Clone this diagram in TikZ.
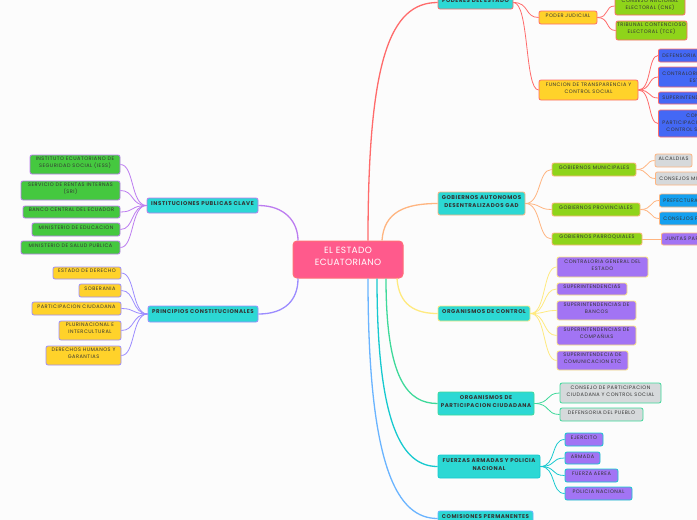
\documentclass[tikz,border=0pt]{standalone}
\usepackage{fontspec}
\setmainfont{Poppins}
\newfontfamily\tfont[LetterSpace=10]{Poppins}
\newfontfamily\cfont[LetterSpace=4]{Poppins}
\usetikzlibrary{fit}
\definecolor{bg}{HTML}{FCFCFC}
\definecolor{txt}{HTML}{333333}
\definecolor{pinkf}{HTML}{FF5A8C}
\definecolor{pinkd}{HTML}{FF6F78}
\definecolor{tealf}{HTML}{2CD8D4}
\definecolor{cred}{HTML}{FF6B6B}
\definecolor{corange}{HTML}{FFB580}
\definecolor{cyellow}{HTML}{FFEA7F}
\definecolor{cgreen}{HTML}{3ED99A}
\definecolor{cteal}{HTML}{16C9CF}
\definecolor{cblue}{HTML}{6AB4FF}
\definecolor{cpurple}{HTML}{BC7CF0}
\definecolor{clav}{HTML}{9C8CFF}
\definecolor{limef}{HTML}{8FD41A}
\definecolor{yelf}{HTML}{FFD22A}
\definecolor{purf}{HTML}{A274F4}
\definecolor{royf}{HTML}{4468F5}
\definecolor{skyf}{HTML}{14A0F0}
\definecolor{grayf}{HTML}{D6D9DB}
\definecolor{greenf}{HTML}{45C83F}
\begin{document}
\begin{tikzpicture}[x=1pt,y=-1pt,
  box/.style={draw, rounded corners=2pt, line width=0.8pt, inner sep=0pt, align=center, text=txt, font=\tfont\fontsize{5}{7}\selectfont},
  lvone/.style={box, fill=tealf, font=\tfont\fontsize{5.5}{7.2}\selectfont\bfseries},
  open/.style={box, anchor=west, inner xsep=4pt, minimum height=#1},
  conn/.style={line width=0.8pt},
  mainc/.style={line width=1.3pt},
]
\fill[bg] (0,0) rectangle (697,520);
\useasboundingbox (0,0) rectangle (697,520);
\clip (0,0) rectangle (697,520);

% center
\node[draw=pinkd, fill=pinkf, rounded corners=4pt, line width=1pt, inner sep=0pt, fit={(293,241) (403,278)}, align=center, text=white, font=\cfont\fontsize{9}{11.5}\selectfont] (c) {EL ESTADO\\ECUATORIANO};

% level one right
\node[lvone, draw=cred, fit={(438,-4) (513,9)}] (p1) {PODERES DEL ESTADO};
\node[lvone, draw=corange, fit={(438,192) (525,215)}] (p2) {GOBIERNOS AUTONOMOS\\DESENTRALIZADOS GAD};
\node[lvone, draw=cyellow, fit={(438,306) (530,321)}] (p3) {ORGANISMOS DE CONTROL};
\node[lvone, draw=cgreen, fit={(438,392) (534,415)}] (p4) {ORGANISMOS DE\\PARTICIPACION CIUDADANA};
\node[lvone, draw=cteal, fit={(438,455) (540,478)}] (p5) {FUERZAS ARMADAS Y POLICIA\\NACIONAL};
\node[lvone, draw=cblue, fit={(438,511) (533,526)}] (p6) {COMISIONES PERMANENTES};

% level one left
\node[lvone, draw=cpurple, fit={(147,198) (258,213)}] (l1) {INSTITUCIONES PUBLICAS CLAVE};
\node[lvone, draw=clav, fit={(148,306) (258,322)}] (l2) {PRINCIPIOS CONSTITUCIONALES};

% center connectors
\draw[mainc, cred] ([xshift=20pt]c.north) .. controls (368,60) and (390,2.5) .. (p1.west);
\draw[mainc, corange] ([xshift=34pt]c.north) .. controls (384,212) and (405,203.5) .. (p2.west);
\draw[mainc, cyellow] ([xshift=49pt]c.south) .. controls (399,305) and (415,313.5) .. (p3.west);
\draw[mainc, cgreen] ([xshift=38pt]c.south) .. controls (386,380) and (408,403.5) .. (p4.west);
\draw[mainc, cteal] ([xshift=29pt]c.south) .. controls (377,425) and (402,466.5) .. (p5.west);
\draw[mainc, cblue] ([xshift=20pt]c.south) .. controls (368,470) and (398,518.5) .. (p6.west);
\draw[mainc, cpurple] (l1.east) .. controls (285,205.5) and (298,222) .. ([xshift=-50pt]c.north);
\draw[mainc, clav] ([xshift=-50pt]c.south) .. controls (298,300) and (285,314) .. (l2.east);

% PODERES DEL ESTADO branch
\node[box, fill=yelf, draw=cred, fit={(539,11) (597,24)}] (pj) {PODER JUDICIAL};
\node[box, fill=yelf, draw=cred, fit={(539,80) (638,100)}] (ft) {FUNCION DE TRANSPARENCIA Y\\CONTROL SOCIAL};
\node[box, fill=limef, draw=cred, fit={(615,-3) (685,15)}] (cne) {CONSEJO NACIONAL\\ELECTORAL (CNE)};
\node[box, fill=limef, draw=cred, fit={(616,21) (687,40)}] (tce) {TRIBUNAL CONTENCIOSO\\ELECTORAL (TCE)};
\node[open=13pt, fill=royf, draw=cred] (f1) at (658,55.5) {DEFENSORIA DEL PUEBLO};
\node[open=20pt, fill=royf, draw=cred] (f2) at (658,77) {CONTRALORIA GENERAL DEL\\ESTADO};
\node[open=12pt, fill=royf, draw=cred] (f3) at (658,98) {SUPERINTENDENCIAS};
\node[open=27pt, fill=royf, draw=cred] (f4) at (658,123.5) {CONSEJO DE\\PARTICIPACION CIUDADANA Y\\CONTROL SOCIAL (CPCCS)};
\foreach \t in {pj,ft} \draw[conn, cred] (p1.east) .. controls +(16,0) and +(-14,0) .. (\t.west);
\foreach \t in {cne,tce} \draw[conn, cred] (pj.east) .. controls +(12,0) and +(-10,0) .. (\t.west);
\foreach \t in {f1,f2,f3,f4} \draw[conn, cred] (ft.east) .. controls +(13,0) and +(-10,0) .. (\t.west);

% GAD branch
\node[box, fill=limef, draw=corange, fit={(552,163) (636,176)}] (gm) {GOBIERNOS MUNICIPALES};
\node[box, fill=limef, draw=corange, fit={(552,203) (640,216)}] (gv) {GOBIERNOS PROVINCIALES};
\node[box, fill=limef, draw=corange, fit={(552,233) (642,245)}] (gq) {GOBIERNOS PARROQUIALES};
\node[box, fill=grayf, draw=corange, fit={(655,154) (692,167)}] (al) {ALCALDIAS};
\node[open=13pt, fill=grayf, draw=corange] (cm) at (655,178.5) {CONSEJOS MUNICIPALES};
\node[open=13pt, fill=skyf, draw=corange] (pf) at (659,200.5) {PREFECTURAS};
\node[open=13pt, fill=skyf, draw=corange] (cp) at (659,218.5) {CONSEJOS PROVINCIALES};
\node[open=12pt, fill=purf, draw=corange] (jp) at (661,239) {JUNTAS PARROQUIALES};
\foreach \t in {gm,gv,gq} \draw[conn, corange] (p2.east) .. controls +(16,0) and +(-14,0) .. (\t.west);
\foreach \t in {al,cm} \draw[conn, corange] (gm.east) .. controls +(12,0) and +(-9,0) .. (\t.west);
\foreach \t in {pf,cp} \draw[conn, corange] (gv.east) .. controls +(12,0) and +(-9,0) .. (\t.west);
\draw[conn, corange] (gq.east) -- (jp.west);

% ORGANISMOS DE CONTROL branch
\node[box, fill=purf, draw=cyellow, fit={(557,257) (648,277)}] (o1) {CONTRALORIA GENERAL DEL\\ESTADO};
\node[box, fill=purf, draw=cyellow, fit={(557,283) (627,295)}] (o2) {SUPERINTENDENCIAS};
\node[box, fill=purf, draw=cyellow, fit={(557,301) (636,320)}] (o3) {SUPERINTENDENCIAS DE\\BANCOS};
\node[box, fill=purf, draw=cyellow, fit={(557,326) (636,345)}] (o4) {SUPERINTENDENCIAS DE\\COMPAÑIAS};
\node[box, fill=purf, draw=cyellow, fit={(557,351) (628,370)}] (o5) {SUPERINTENDECIA DE\\COMUNICACION ETC};
\foreach \t in {o1,o2,o3,o4,o5} \draw[conn, cyellow] (p3.east) .. controls +(16,0) and +(-14,0) .. (\t.west);

% PARTICIPACION branch
\node[box, fill=grayf, draw=cgreen, fit={(560,383) (661,403)}] (q1) {CONSEJO DE PARTICIPACION\\CIUDADANA Y CONTROL SOCIAL};
\node[box, fill=grayf, draw=cgreen, fit={(560,408) (643,421)}] (q2) {DEFENSORIA DEL PUEBLO};
\foreach \t in {q1,q2} \draw[conn, cgreen] (p4.east) .. controls +(16,0) and +(-14,0) .. (\t.west);

% FUERZAS branch
\node[box, fill=purf, draw=cteal, fit={(565,433) (603,446)}] (r1) {EJERCITO};
\node[box, fill=purf, draw=cteal, fit={(565,452) (600,464)}] (r2) {ARMADA};
\node[box, fill=purf, draw=cteal, fit={(565,469) (618,482)}] (r3) {FUERZA AEREA};
\node[box, fill=purf, draw=cteal, fit={(565,487) (632,500)}] (r4) {POLICIA NACIONAL};
\foreach \t in {r1,r2,r3,r4} \draw[conn, cteal] (p5.east) .. controls +(16,0) and +(-14,0) .. (\t.west);

% INSTITUCIONES branch
\node[box, fill=greenf, draw=cpurple, fit={(30,155) (120,174)}] (i1) {INSTITUTO ECUATORIANO DE\\SEGURIDAD SOCIAL (IESS)};
\node[box, fill=greenf, draw=cpurple, fit={(21,181) (120,200)}] (i2) {SERVICIO DE RENTAS INTERNAS\\(SRI)};
\node[box, fill=greenf, draw=cpurple, fit={(23,206) (120,218)}] (i3) {BANCO CENTRAL DEL ECUADOR};
\node[box, fill=greenf, draw=cpurple, fit={(32,223) (120,236)}] (i4) {MINISTERIO DE EDUCACION};
\node[box, fill=greenf, draw=cpurple, fit={(21,241) (120,254)}] (i5) {MINISTERIO DE SALUD PUBLICA};
\foreach \t in {i1,i2,i3,i4,i5} \draw[conn, cpurple] (l1.west) .. controls +(-16,0) and +(14,0) .. (\t.east);

% PRINCIPIOS branch
\node[box, fill=yelf, draw=clav, fit={(53,267) (121,279)}] (s1) {ESTADO DE DERECHO};
\node[box, fill=yelf, draw=clav, fit={(79,284) (121,297)}] (s2) {SOBERANIA};
\node[box, fill=yelf, draw=clav, fit={(32,302) (121,315)}] (s3) {PARTICIPACION CIUDADANA};
\node[box, fill=yelf, draw=clav, fit={(59,321) (121,340)}] (s4) {PLURINACIONAL E\\INTERCULTURAL};
\node[box, fill=yelf, draw=clav, fit={(46,346) (121,365)}] (s5) {DERECHOS HUMANOS Y\\GARANTIAS};
\foreach \t in {s1,s2,s3,s4,s5} \draw[conn, clav] (l2.west) .. controls +(-16,0) and +(14,0) .. (\t.east);
\end{tikzpicture}
\end{document}
